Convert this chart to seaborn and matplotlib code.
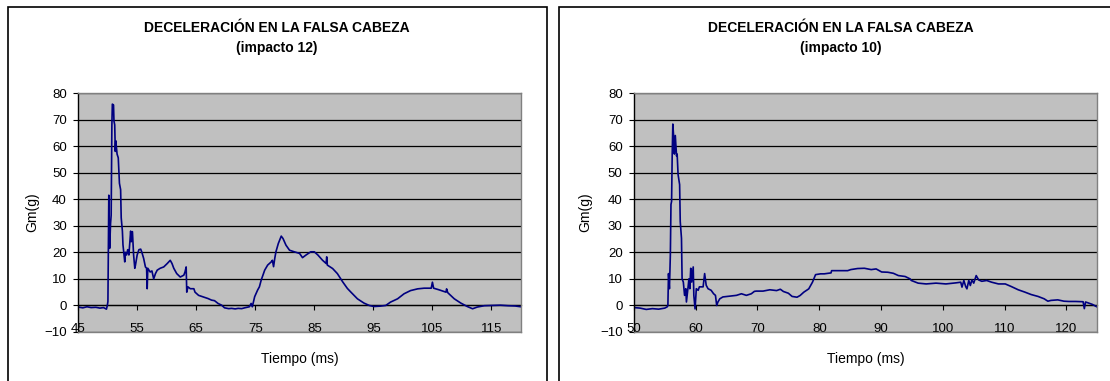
import matplotlib
matplotlib.use("Agg")
import matplotlib.pyplot as plt
import seaborn as sns
import pandas as pd
from matplotlib.patches import Rectangle

# ---------------- data ----------------
titulo = "DECELERACIÓN EN LA FALSA CABEZA"
subtitulos = ["(impacto 12)", "(impacto 10)"]
eje_x = "Tiempo (ms)"
eje_y = "Gm(g)"

ticks_x_12 = [45, 55, 65, 75, 85, 95, 105, 115]
ticks_x_10 = [50, 60, 70, 80, 90, 100, 110, 120]
ticks_y = [-10, 0, 10, 20, 30, 40, 50, 60, 70, 80]
lim_x_12 = (45, 120)
lim_x_10 = (50, 125)

# (time ms, deceleration g) for impact 12
impacto12 = [
    (45.0, -0.6), (45.8, -0.9), (46.5, -0.5), (47.2, -0.8), (48.0, -0.7),
    (48.7, -1.0), (49.3, -0.8), (49.8, -1.4), (49.95, 0.0), (50.05, 1.5),
    (50.2, 41.5), (50.28, 30.0), (50.34, 21.5), (50.5, 31.0), (50.6, 34.0),
    (50.72, 68.0), (50.8, 75.8), (51.0, 75.5), (51.07, 69.5), (51.2, 68.0),
    (51.3, 58.0), (51.38, 62.0), (51.6, 57.0), (51.8, 55.6), (52.0, 46.0),
    (52.2, 43.6), (52.3, 33.0), (52.5, 28.0), (52.6, 22.8), (52.9, 16.4),
    (53.0, 20.0), (53.2, 19.0), (53.4, 21.0), (53.6, 19.0), (53.9, 28.0),
    (54.0, 24.0), (54.2, 27.8), (54.4, 19.0), (54.6, 14.0), (54.7, 15.0),
    (55.0, 19.0), (55.3, 21.0), (55.6, 21.2), (55.8, 20.0), (56.1, 17.7),
    (56.4, 14.5), (56.6, 14.0), (56.7, 6.3), (56.8, 14.0), (57.2, 12.6),
    (57.5, 13.0), (57.8, 10.0), (58.1, 12.0), (58.4, 13.3), (58.9, 14.0),
    (59.5, 14.5), (60.1, 15.8), (60.6, 17.0), (60.9, 15.8), (61.2, 14.0),
    (61.7, 12.0), (62.3, 10.7), (62.9, 11.4), (63.1, 12.6), (63.3, 14.5),
    (63.4, 5.0), (63.6, 7.0), (64.0, 6.3), (64.6, 6.3), (64.8, 5.0),
    (65.4, 3.8), (66.2, 3.2), (67.0, 2.6), (67.6, 2.0), (68.1, 1.8),
    (68.7, 0.75), (69.3, 0.1), (69.8, -0.9), (70.5, -1.2), (71.0, -1.1),
    (71.6, -1.3), (72.1, -1.1), (72.7, -1.2), (73.2, -0.9), (74.0, -0.5),
    (74.3, 0.75), (74.5, -0.5), (74.9, 3.3), (75.4, 5.8), (75.7, 7.0),
    (76.0, 9.5), (76.3, 11.4), (76.6, 13.3), (77.1, 15.2), (77.7, 16.4),
    (77.9, 17.0), (78.1, 14.6), (78.3, 17.7), (78.5, 20.2), (78.9, 23.3),
    (79.4, 26.1), (79.7, 25.2), (80.2, 22.7), (80.8, 20.8), (81.6, 20.2),
    (82.5, 19.6), (83.0, 18.0), (83.6, 19.0), (84.4, 20.2), (85.0, 20.2),
    (85.6, 19.0), (86.4, 17.0), (87.0, 15.8), (87.1, 18.3), (87.2, 15.2),
    (88.1, 13.9), (88.9, 12.0), (89.8, 8.9), (90.6, 6.4), (91.2, 5.0),
    (92.3, 2.5), (93.4, 0.9), (94.3, 0.0), (95.1, -0.4), (96.2, -0.25),
    (97.1, 0.0), (97.9, 1.25), (99.1, 2.5), (100.2, 4.4), (101.3, 5.6),
    (102.5, 6.25), (103.6, 6.5), (104.8, 6.5), (105.0, 8.75), (105.2, 6.5),
    (106.1, 5.9), (107.3, 5.0), (107.4, 6.25), (107.6, 4.8), (108.7, 2.5),
    (109.8, 0.9), (110.9, -0.4), (111.8, -1.25), (112.6, -0.6), (113.8, -0.1),
    (115.2, 0.0), (116.5, 0.1), (117.8, -0.1), (119.0, -0.2), (120.0, -0.5),
]

# (time ms, deceleration g) for impact 10
impacto10 = [
    (50.0, -0.8), (51.0, -1.0), (52.0, -1.5), (53.0, -1.2), (54.0, -1.4),
    (55.0, -1.0), (55.4, -0.5), (55.5, 0.0), (55.6, 12.0), (55.75, 6.3),
    (55.9, 19.0), (56.0, 38.0), (56.1, 39.2), (56.2, 57.0), (56.3, 68.3),
    (56.45, 63.0), (56.55, 57.0), (56.7, 64.0), (56.9, 56.3), (57.0, 57.0),
    (57.15, 49.3), (57.4, 45.5), (57.5, 31.6), (57.7, 25.3), (57.8, 10.0),
    (58.0, 8.8), (58.2, 3.8), (58.4, 6.3), (58.5, 1.3), (58.8, 7.6),
    (58.9, 10.0), (59.05, 6.3), (59.2, 14.0), (59.35, 8.8), (59.6, 14.5),
    (59.7, 3.8), (59.9, -1.3), (60.1, 6.3), (60.4, 5.7), (60.6, 7.0),
    (61.2, 7.0), (61.45, 12.0), (61.7, 7.6), (62.0, 6.3), (62.5, 5.7),
    (62.9, 4.4), (63.2, 3.8), (63.4, 0.0), (63.6, 1.3), (63.9, 2.5),
    (64.4, 3.2), (65.5, 3.5), (66.6, 3.8), (67.4, 4.4), (68.2, 3.8),
    (69.0, 4.4), (69.5, 5.3), (69.8, 5.4), (70.9, 5.4), (72.0, 5.9),
    (73.1, 5.6), (73.7, 6.1), (74.2, 5.25), (75.0, 4.6), (75.6, 3.4),
    (76.4, 3.1), (76.9, 3.75), (77.5, 5.0), (78.3, 6.25), (78.9, 8.75),
    (79.4, 11.6), (80.2, 11.9), (80.8, 11.9), (81.9, 12.25), (82.0, 13.1),
    (83.0, 13.1), (84.6, 13.1), (85.1, 13.5), (86.2, 13.9), (87.3, 14.0),
    (88.4, 13.5), (89.2, 13.75), (90.1, 12.6), (91.1, 12.5), (92.0, 12.1),
    (92.8, 11.25), (93.9, 10.9), (94.7, 10.0), (94.9, 9.4), (96.0, 8.4),
    (97.3, 8.1), (98.9, 8.4), (100.5, 8.1), (102.1, 8.5), (102.9, 8.75),
    (103.1, 6.9), (103.4, 9.4), (103.7, 7.1), (103.9, 6.25), (104.2, 9.4),
    (104.45, 7.5), (104.7, 9.6), (105.0, 8.4), (105.4, 11.25), (105.8, 9.6),
    (106.3, 9.1), (107.1, 9.4), (107.9, 8.75), (109.0, 8.1), (110.1, 8.1),
    (111.1, 7.1), (112.2, 5.9), (113.3, 5.0), (114.3, 4.1), (115.4, 3.4),
    (116.4, 2.5), (117.0, 1.6), (117.5, 1.9), (118.6, 2.1), (119.6, 1.6),
    (120.4, 1.5), (121.5, 1.5), (122.7, 1.4), (122.9, -1.2), (123.1, 1.3),
    (124.2, 0.4), (125.0, -0.6),
]

# ---------------- style ----------------
sns.set_style("white", rc={"xtick.bottom": True, "ytick.left": True})
plt.rcParams["font.family"] = ["Liberation Sans", "DejaVu Sans"]
plt.rcParams["text.color"] = "black"
plt.rcParams["xtick.color"] = "black"
plt.rcParams["ytick.color"] = "black"
plt.rcParams["axes.labelcolor"] = "black"

W, H = 1110, 381
fig = plt.figure(figsize=(W / 100, H / 100), dpi=100)
fig.patch.set_facecolor("white")

LINE = "#000080"
PLOT_BG = "#C0C0C0"


def px_rect(x0, x1, ytop, ybot):
    return [x0 / W, 1 - ybot / H, (x1 - x0) / W, (ybot - ytop) / H]


def panel(rect, data, xlim, xticks, sub, box, title_x, ylab_x, xlab_x):
    # outer chart box
    bx0, bx1 = box
    fig.add_artist(Rectangle((bx0 / W, -0.05), (bx1 - bx0) / W, 1 - 6.7 / H + 0.05,
                             transform=fig.transFigure, fill=False,
                             lw=1.2, ec="black", zorder=0))
    ax = fig.add_axes(rect)
    df = pd.DataFrame(data, columns=["t", "g"])
    sns.lineplot(data=df, x="t", y="g", ax=ax, color=LINE, lw=1.2,
                 estimator=None, sort=False)
    ax.set_xlim(*xlim)
    ax.set_ylim(-10, 80)
    ax.set_facecolor(PLOT_BG)
    ax.set_yticks(ticks_y)
    ax.set_xticks(xticks)
    ax.set_axisbelow(True)
    ax.grid(axis="y", color="black", lw=0.9)
    ax.grid(axis="x", visible=False)
    for s in ["top", "right", "bottom"]:
        ax.spines[s].set_color("#808080")
        ax.spines[s].set_linewidth(1.0)
    ax.spines["left"].set_color("black")
    ax.spines["left"].set_linewidth(1.0)
    ax.tick_params(axis="y", direction="out", length=3.4, width=0.8, pad=4.7,
                   labelsize=9.5, left=True)
    ax.tick_params(axis="x", length=0, pad=-6.2, labelsize=9.5, bottom=True)
    ax.set_xlabel("")
    ax.set_ylabel("")
    # Excel-like category axis crossing at 0 with tick marks downward
    sec = ax.secondary_xaxis(10 / 90)
    sec.set_xticks(xticks)
    sec.tick_params(axis="x", direction="out", length=3.6, width=0.8,
                    labelbottom=False, bottom=True)
    sec.spines["bottom"].set_color("black")
    sec.spines["bottom"].set_linewidth(0.9)

    fig.text(title_x / W, 1 - 27.7 / H, titulo, ha="center", va="center",
             fontsize=10, fontweight="bold")
    fig.text(title_x / W, 1 - 48.3 / H, sub, ha="center", va="center",
             fontsize=10, fontweight="bold")
    fig.text(ylab_x / W, 1 - 212.5 / H, eje_y, ha="center", va="center",
             rotation=90, fontsize=10)
    fig.text(xlab_x / W, 1 - 359 / H, eje_x, ha="center", va="center",
             fontsize=10)
    return ax


panel(px_rect(78.1, 521, 93, 332), impacto12, lim_x_12, ticks_x_12,
      subtitulos[0], (7.8, 547), 276.6, 31.9, 300)
panel(px_rect(633.9, 1097.3, 93, 332), impacto10, lim_x_10, ticks_x_10,
      subtitulos[1], (559.2, 1125), 840.8, 585, 865.6)

fig.savefig("out.png", dpi=100, facecolor="white")
